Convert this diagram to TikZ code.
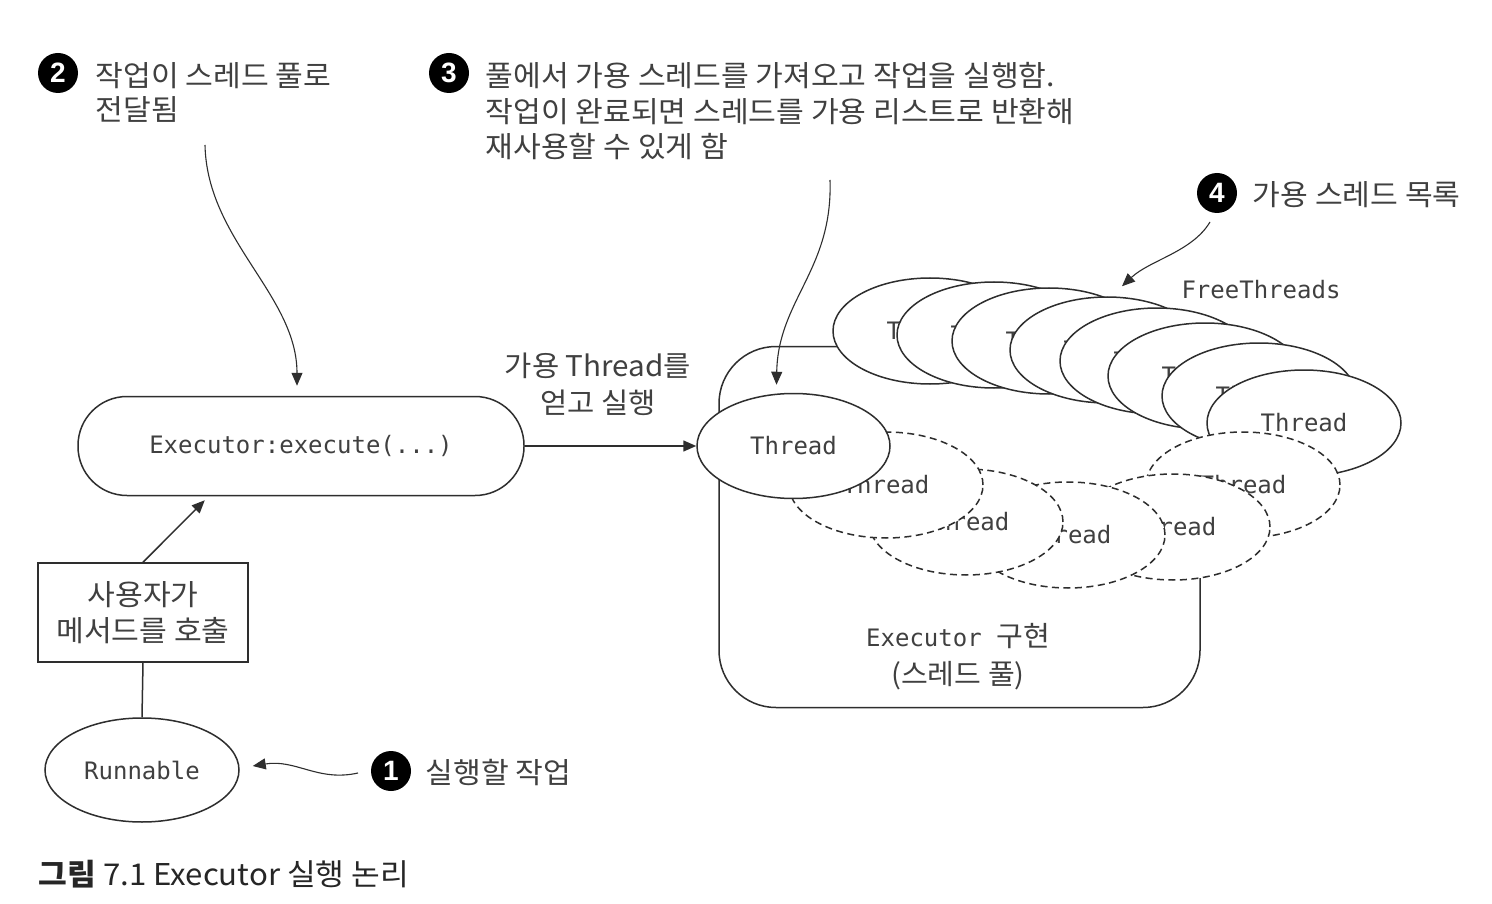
\documentclass[tikz,border=0pt]{standalone}
\usepackage{fontspec}
\setmainfont{Noto Sans CJK KR}
\newfontfamily\krfont[FakeStretch=1.04]{Noto Sans CJK KR}
\newfontfamily\monofont{DejaVu Sans Mono}
\newfontfamily\numfont{Liberation Sans}
\usetikzlibrary{arrows.meta,shapes.geometric,calc}
\definecolor{ink}{HTML}{2E2E2E}
\definecolor{txt}{HTML}{404040}
\begin{document}
\begin{tikzpicture}[x=1pt,y=-1pt,line width=1.5pt,
  every node/.style={inner sep=0pt},
  kr/.style={font=\krfont\fontsize{29}{35.5}\selectfont, text=txt},
  mono/.style={font=\monofont\fontsize{24}{28}\selectfont, text=txt},
  ell/.style={ellipse, draw=ink, fill=white, minimum width=194pt, minimum height=106pt, mono},
  dell/.style={ell, dash pattern=on 7pt off 4.5pt},
  numc/.style={circle, fill=black, minimum size=40pt, text=white, font=\numfont\bfseries\fontsize{28}{28}\selectfont},
  arr/.style={-{Triangle[length=13pt,width=11pt]}, draw=ink},
  lead/.style={arr, line width=1.1pt}]
\useasboundingbox[fill=white] (0,0) rectangle (1492,904);

% Executor implementation (thread pool)
\node[draw=ink, rounded corners=57pt, minimum width=481pt, minimum height=361pt] (pool) at (959.5,527) {};
\node[mono, align=center, font=\monofont\fontsize{24}{38}\selectfont] (poollbl) at (958,657) {Executor {\krfont\fontsize{28}{38}\selectfont 구현}\\{\krfont\fontsize{28}{38}\selectfont (스레드 풀)}};

% free threads (solid stack)
\node[ell] (f1) at (930,331) {Thread};
\node[ell] (f2) at (994,335) {Thread};
\node[ell] (f3) at (1049,341) {Thread};
\node[ell] (f4) at (1107,350) {Thread};
\node[ell] (f5) at (1157,361) {Thread};
\node[ell] (f6) at (1205,376) {Thread};
\node[ell] (f7) at (1259,396) {Thread};
\node[ell] (f8) at (1304,423) {Thread};
\node[mono] (freelbl) at (1261,290) {FreeThreads};

% busy threads (dashed)
\node[dell] (d5) at (1243,485) {Thread};
\node[dell] (d4) at (1173,527) {Thread};
\node[dell] (d3) at (1068,535) {Thread};
\node[dell] (d2) at (966,522) {Thread};
\node[dell] (d1) at (886,485) {Thread};

% active thread
\node[ell, minimum width=193pt, minimum height=105pt] (thread) at (793.5,446) {Thread};

% executor
\node[draw=ink, rounded corners=49pt, minimum width=446pt, minimum height=99pt, mono] (exec) at (301,446) {Executor:execute(...)};
\node[kr, align=center, font=\krfont\fontsize{28.5}{37}\selectfont] (getlbl) at (598,384) {가용 Thread를\\얻고 실행};
\draw[arr] (exec.east) -- (thread.west);

% user box and runnable
\node[draw=ink, minimum width=210pt, minimum height=99pt, kr, align=center] (user) at (143,612.5) {사용자가\\메서드를 호출};
\node[ell, minimum width=194pt, minimum height=104pt] (run) at (142,770) {Runnable};
\draw[draw=ink] (user.south) -- (run.north);
\draw[arr] (user.north) -- ($(exec.south west)!0.285!(exec.south east)+(0,4)$);

% callout 1
\node[numc] (c1) at (391,771) {1};
\node[kr, anchor=west] (t1) at (425,773) {실행할 작업};
\coordinate (s1) at (358,773);
\draw[lead] (s1) .. controls (318,782) and (296,759) .. ($(run.east)+(13,-4)$);

% callout 2
\node[numc] (c2) at (58,73) {2};
\node[kr, anchor=north west, align=left, font=\krfont\fontsize{29}{33.5}\selectfont] (t2) at (95,62) {작업이 스레드 풀로\\전달됨};
\coordinate (s2) at (205,145);
\draw[lead] (s2) .. controls (207,240) and (297,295) .. ($(exec.north)+(-4,-10)$);

% callout 3
\node[numc] (c3) at (449,73) {3};
\node[kr, anchor=north west, align=left] (t3) at (485,62) {풀에서 가용 스레드를 가져오고 작업을 실행함.\\작업이 완료되면 스레드를 가용 리스트로 반환해\\재사용할 수 있게 함};
\coordinate (s3) at (830,180);
\draw[lead] (s3) .. controls (833,270) and (778,300) .. ($(thread.north)+(-17,-8)$);

% callout 4
\node[numc] (c4) at (1217,193) {4};
\node[kr, anchor=west] (t4) at (1252,195) {가용 스레드 목록};
\coordinate (s4) at (1210,222);
\draw[lead] (s4) .. controls (1192,252) and (1150,260) .. ($(f4.north)+(15,-10)$);

% caption
\node[anchor=west, font=\krfont\fontsize{30}{34}\selectfont, text=black!85] (cap) at (38,874) {\textbf{그림} 7.1 Executor 실행 논리};
\end{tikzpicture}
\end{document}
